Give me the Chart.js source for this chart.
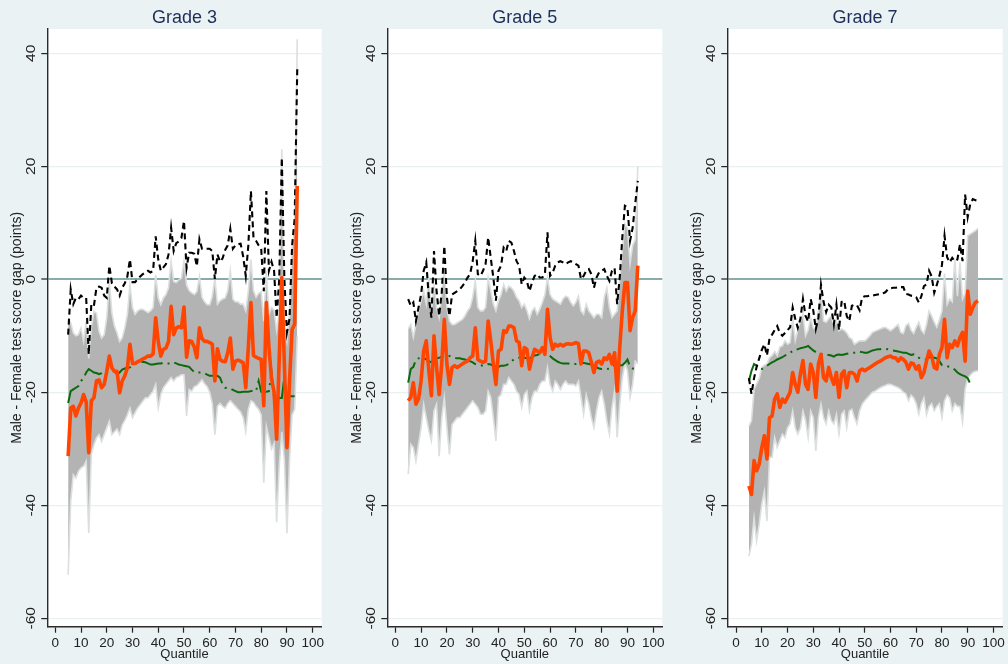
<!DOCTYPE html>
<html>
<head>
<meta charset="utf-8">
<script src="https://cdn.jsdelivr.net/npm/chart.js@4.4.1/dist/chart.umd.min.js"></script>
<style>
html,body{margin:0;padding:0;background:#eaf2f3;}
#wrap{position:relative;width:1008px;height:664px;overflow:hidden;background:#eaf2f3;}
.pan{position:absolute;top:0;height:664px;}
canvas{display:block;}
</style>
</head>
<body>
<div id="wrap">
  <div class="pan" style="left:0px;width:330px"><canvas id="c1" width="330" height="664"></canvas></div>
  <div class="pan" style="left:340px;width:330px"><canvas id="c2" width="330" height="664"></canvas></div>
  <div class="pan" style="left:680px;width:328px"><canvas id="c3" width="328" height="664"></canvas></div>
</div>
<script>
// ---------------- DATA ----------------
const QUANTILES = [5,6,7,8,9,10,11,12,13,14,15,16,17,18,19,20,21,22,23,24,25,26,27,28,29,30,31,32,33,34,
35,36,37,38,39,40,41,42,43,44,45,46,47,48,49,50,51,52,53,54,55,56,57,58,59,60,61,62,63,64,
65,66,67,68,69,70,71,72,73,74,75,76,77,78,79,80,81,82,83,84,85,86,87,88,89,90,91,92,93,94];
const X_TICKS = [0,10,20,30,40,50,60,70,80,90,100];
const Y_TICKS = [-60,-40,-20,0,20,40];
const PANEL_TITLES = ['Grade 3','Grade 5','Grade 7'];
const X_TITLE = 'Quantile';
const Y_TITLE = 'Male - Female test score gap (points)';

// Grade 3
const G3_EST = [-31.3,-22.8,-22.5,-24.2,-22.8,-21.9,-20.4,-21.7,-30.7,-21.5,
-21.0,-18.0,-17.8,-19.2,-18.6,-16.3,-13.6,-15.7,-16.3,-16.3,
-20.1,-18.0,-17.1,-15.7,-11.5,-14.9,-14.9,-14.6,-14.4,-14.1,
-13.9,-13.6,-13.6,-13.2,-6.8,-11.0,-13.6,-12.4,-12.2,-11.0,
-4.8,-9.8,-8.6,-8.4,-8.6,-4.9,-13.8,-10.9,-11.0,-12.0,
-13.9,-8.6,-10.5,-11.0,-11.0,-11.2,-11.5,-18.0,-12.3,-14.2,
-14.5,-14.6,-13.0,-10.4,-15.9,-14.5,-14.3,-14.5,-14.8,-19.2,
-12.0,-4.1,-13.5,-13.8,-14.0,-14.2,-22.4,-4.1,-12.0,-17.6,
-20.0,-28.3,-14.0,0.3,-15.0,-29.8,-18.0,-8.9,-7.9,16.5];
const G3_LO = [-52.3,-39.3,-34.6,-35.2,-34.0,-33.4,-33.1,-32.2,-44.9,-31.0,
-29.3,-28.1,-27.5,-28.7,-27.5,-26.3,-25.1,-27.5,-27.0,-26.5,
-27.5,-25.8,-25.0,-24.0,-22.8,-24.5,-23.6,-22.8,-22.2,-21.6,
-21.0,-21.0,-20.4,-19.8,-18.6,-22.8,-20.4,-19.2,-18.6,-18.0,
-17.4,-18.0,-17.4,-17.2,-16.9,-16.9,-24.2,-19.5,-19.8,-19.0,
-18.8,-18.3,-17.8,-18.5,-19.0,-20.0,-22.0,-27.5,-22.5,-22.0,
-22.5,-22.8,-22.0,-21.5,-22.0,-22.5,-23.0,-23.5,-24.5,-27.0,
-23.0,-21.5,-21.8,-22.5,-23.0,-24.0,-36.0,-26.0,-28.0,-30.0,
-29.0,-43.0,-33.0,-27.0,-32.0,-45.0,-32.0,-24.0,-23.0,-10.0];
const G3_HI = [-7.0,-7.7,-9.5,-10.0,-9.8,-8.6,-11.0,-7.4,-14.0,-8.6,
-5.7,-6.0,-9.2,-10.4,-9.8,-6.8,-0.4,-6.0,-8.3,-9.5,
-11.0,-10.4,-8.6,-6.2,-1.0,-5.0,-6.2,-5.6,-5.3,-5.3,
-5.6,-5.9,-5.6,-5.0,0.8,-3.3,-4.5,-3.3,-2.7,-1.5,
3.2,-0.4,-0.6,-0.1,0.2,3.2,-1.0,-2.0,-2.4,-2.7,
-2.2,0.5,-3.2,-4.0,-4.5,-4.5,-3.0,0.2,-4.4,-3.8,
-3.5,-3.3,-2.0,1.5,-3.5,-4.0,-4.0,-4.4,-4.4,-5.6,
-2.0,3.5,-2.0,-3.2,-2.5,-2.2,-7.4,1.5,-6.2,-5.0,
-5.5,-9.1,-6.0,23.0,-8.0,-10.9,-6.2,5.6,8.6,42.5];
const G3_BLACK = [-9.8,-1.8,-4.4,-3.3,-3.5,-2.9,-3.3,-3.3,-13.3,-4.4,
-4.7,-1.5,-1.3,-1.5,-2.9,-3.3,2.4,-0.7,-1.3,-1.8,
-2.9,-1.5,-0.7,0.5,3.5,-0.5,-0.5,0.0,0.5,0.9,
1.2,1.5,1.2,1.5,7.6,3.5,1.5,2.1,2.7,4.4,
9.1,5.0,6.4,6.7,7.3,10.3,2.0,4.7,4.7,4.5,
2.3,7.1,5.4,5.4,5.4,5.4,5.0,0.0,4.4,3.1,
3.7,5.2,6.0,8.9,5.4,6.0,6.2,6.3,4.0,0.6,
6.0,15.6,7.4,6.8,6.0,5.4,-2.1,15.6,1.5,3.1,
1.5,-6.8,0.0,21.5,0.0,-9.4,-7.0,6.0,10.7,37.2];
const G3_GREEN = [-21.9,-19.8,-19.5,-19.2,-18.9,-18.0,-17.5,-16.5,-15.9,-16.2,
-16.5,-16.6,-16.8,-16.6,-16.2,-16.1,-16.0,-16.0,-16.3,-16.8,
-16.5,-16.0,-15.8,-15.7,-15.6,-15.3,-14.9,-14.9,-14.7,-14.6,
-14.7,-14.9,-15.1,-15.1,-15.0,-14.9,-14.9,-14.8,-14.9,-14.9,
-14.9,-14.7,-14.9,-15.1,-15.2,-15.3,-15.4,-15.5,-16.0,-16.4,
-16.5,-16.5,-16.5,-16.6,-16.9,-17.1,-17.1,-17.1,-17.1,-17.4,
-18.6,-19.2,-19.3,-19.3,-19.6,-19.8,-20.0,-20.0,-19.9,-19.9,
-19.9,-19.8,-19.7,-19.8,-18.0,-19.9,-19.9,-19.9,-19.8,-16.5,
-21.0,-21.0,-21.0,-21.0,-17.3,-20.6,-20.7,-20.7,-20.7,null];

// Grade 5
const G5_EST = [-21.5,-20.9,-18.3,-22.1,-21.2,-18.0,-12.7,-10.9,-16.2,-20.6,
-10.0,-15.6,-20.4,-15.0,-7.1,-15.0,-18.6,-15.6,-15.3,-15.6,
-15.3,-15.0,-14.7,-14.5,-13.9,-13.6,-8.6,-14.2,-14.5,-14.7,
-14.5,-7.4,-10.9,-15.0,-18.6,-12.7,-12.4,-9.1,-9.4,-8.3,
-8.3,-8.6,-10.9,-11.2,-15.3,-12.1,-12.4,-15.9,-13.9,-12.4,
-12.7,-13.0,-12.1,-13.3,-5.3,-10.3,-12.4,-11.5,-11.8,-11.5,
-11.8,-11.5,-11.4,-11.5,-11.4,-11.2,-11.4,-15.0,-12.7,-12.7,
-13.0,-14.7,-16.5,-14.7,-14.5,-15.0,-13.9,-14.2,-13.3,-15.0,
-13.0,-19.8,-12.1,-5.6,-0.6,-0.6,-9.1,-6.8,-5.6,2.4];
const G5_LO = [-34.5,-29.2,-29.8,-32.2,-29.2,-26.3,-22.1,-24.5,-26.8,-28.6,
-23.3,-22.1,-31.3,-24.5,-20.9,-26.3,-31.0,-25.7,-25.1,-24.5,
-24.5,-23.9,-23.3,-22.7,-22.1,-21.5,-22.1,-22.7,-23.9,-23.9,
-23.3,-19.8,-20.9,-24.5,-28.6,-20.9,-20.4,-18.6,-18.6,-17.4,
-18.0,-18.6,-19.8,-20.4,-22.7,-20.4,-19.8,-23.3,-20.9,-19.8,
-19.8,-18.6,-18.0,-18.0,-15.6,-18.6,-19.8,-18.0,-18.6,-19.5,
-18.6,-18.0,-18.6,-18.6,-18.6,-18.9,-18.0,-20.9,-23.9,-20.4,
-22.1,-24.5,-26.3,-23.3,-20.9,-19.8,-22.1,-25.1,-27.4,-22.7,
-19.8,-28.0,-22.1,-17.4,-15.0,-16.2,-20.9,-18.6,-14.5,-15.0];
const G5_HI = [-8.8,-8.0,-10.3,-8.0,-5.6,-3.8,-2.1,-4.4,0.3,-6.2,
-0.9,-5.0,-6.8,-2.7,1.5,-5.0,-7.4,-8.0,-8.0,-7.7,
-7.4,-7.1,-6.5,-5.6,-5.0,-3.2,-0.3,-5.0,-5.6,-5.6,
-5.0,0.3,-2.1,-4.4,-5.6,-3.8,-2.7,-0.9,-2.1,-1.2,
-1.5,-2.1,-3.2,-3.8,-5.0,-4.4,-5.5,-7.0,-5.6,-5.0,
-6.2,-5.3,-4.1,-2.7,0.3,-2.7,-3.5,-3.8,-4.1,-4.4,
-3.5,-3.0,-3.2,-4.1,-4.7,-4.1,-3.0,-5.6,-6.2,-4.4,
-5.6,-6.2,-6.8,-6.2,-6.2,-6.8,-3.2,-1.5,-5.0,-6.8,
-6.2,-5.6,0.0,5.0,9.8,9.0,2.7,6.0,7.0,20.0];
const G5_BLACK = [-3.5,-4.7,-4.1,-7.4,-5.0,-2.7,1.5,3.0,-3.2,-6.8,
5.0,-2.1,-6.5,-2.4,5.9,-3.2,-6.5,-2.7,-2.4,-2.1,
-1.8,-1.2,-0.6,0.3,0.9,3.2,6.8,0.9,0.6,1.5,
2.7,7.4,3.8,0.3,-3.8,1.5,2.4,5.6,5.0,6.8,
6.5,5.0,3.2,2.4,-0.9,0.3,-0.3,-2.1,-0.6,0.6,
0.9,0.3,0.3,0.9,8.3,0.6,1.2,2.4,3.0,3.2,
3.0,2.7,3.0,3.2,3.0,2.7,2.4,0.0,0.6,1.5,
1.8,0.9,-1.5,0.3,1.2,1.5,1.8,0.6,-0.3,1.5,
2.0,-4.4,0.3,7.4,13.0,12.7,6.8,9.1,13.3,17.4];
const G5_GREEN = [-18.3,-15.9,-15.5,-14.2,-14.0,-13.9,-13.9,-14.2,-14.5,-14.7,
-14.2,-14.0,-13.9,-13.7,-13.6,-13.6,-13.6,-13.7,-13.9,-14.0,
-14.0,-14.1,-14.2,-14.4,-14.5,-14.7,-15.0,-15.1,-15.2,-15.3,
-15.3,-15.0,-15.1,-15.3,-15.4,-15.5,-15.3,-15.3,-15.2,-15.0,
-14.5,-14.2,-14.1,-13.9,-13.9,-13.9,-14.0,-14.0,-13.8,-13.5,
-13.4,-13.2,-12.9,-13.0,-13.3,-13.6,-14.0,-14.3,-14.6,-14.8,
-14.9,-14.9,-14.9,-15.0,-15.0,-15.0,-14.9,-14.8,-14.8,-14.9,
-15.0,-15.1,-15.3,-15.6,-15.8,-15.9,-15.9,-15.9,-15.8,-15.6,
-15.3,-15.2,-15.2,-15.2,-14.8,-14.2,-15.5,-15.8,-15.8,-15.8];

// Grade 7
const G7_EST = [-36.6,-38.1,-32.1,-33.9,-32.7,-29.8,-27.7,-31.8,-24.5,-24.2,
-21.2,-20.3,-22.7,-21.2,-21.8,-20.9,-20.0,-16.5,-18.6,-20.0,
-16.8,-14.4,-18.6,-19.5,-15.0,-16.5,-20.9,-15.0,-13.3,-17.4,
-18.0,-15.6,-17.4,-18.6,-16.5,-20.9,-16.8,-16.2,-19.2,-16.5,
-16.5,-16.8,-18.0,-16.2,-15.9,-16.2,-15.9,-15.6,-15.3,-15.0,
-14.7,-14.5,-14.2,-13.9,-13.7,-13.6,-13.9,-13.9,-14.5,-13.9,
-14.2,-14.7,-15.9,-14.8,-15.0,-15.9,-15.3,-17.4,-16.5,-14.5,
-12.7,-13.6,-15.6,-15.9,-13.3,-12.1,-7.1,-13.9,-11.5,-12.1,
-10.9,-11.8,-10.3,-9.4,-14.5,-2.1,-6.2,-5.0,-4.1,-3.8];
const G7_LO = [-49.0,-46.9,-42.2,-46.3,-43.3,-39.8,-37.5,-42.8,-31.5,-31.5,
-28.0,-29.8,-28.6,-27.4,-28.0,-26.3,-25.6,-23.3,-26.3,-27.4,
-26.3,-23.3,-25.0,-28.0,-23.3,-24.5,-30.4,-24.5,-22.1,-24.5,
-25.6,-23.3,-25.0,-25.6,-23.9,-27.4,-23.9,-23.3,-26.3,-23.3,
-23.0,-24.5,-25.6,-23.3,-22.1,-21.5,-21.0,-20.5,-20.0,-19.8,
-19.5,-19.2,-19.0,-18.8,-18.6,-18.6,-18.8,-19.0,-19.2,-19.5,
-20.0,-20.3,-21.5,-20.5,-21.0,-22.0,-23.9,-22.0,-21.0,-24.0,
-22.5,-22.0,-23.3,-22.5,-22.0,-24.5,-21.5,-20.5,-21.0,-23.3,
-22.0,-22.5,-22.5,-25.3,-19.5,-17.5,-17.0,-16.5,-16.3,-16.2];
const G7_HI = [-26.0,-25.0,-19.5,-18.5,-17.5,-15.6,-15.2,-15.0,-13.9,-13.5,
-12.8,-13.5,-12.0,-11.8,-10.9,-11.5,-11.2,-6.8,-10.9,-9.0,
-7.4,-6.2,-10.0,-9.0,-6.8,-8.6,-9.0,-5.6,-2.0,-7.4,
-7.6,-7.0,-6.5,-8.3,-7.5,-9.1,-8.8,-9.0,-9.5,-10.3,
-10.6,-11.5,-11.2,-10.9,-10.9,-10.9,-10.5,-10.0,-9.4,-9.2,
-9.0,-8.8,-8.6,-8.5,-8.8,-9.1,-8.8,-8.4,-8.0,-9.4,
-9.6,-8.2,-7.8,-9.0,-9.6,-8.5,-7.6,-9.0,-9.6,-8.0,
-5.6,-6.5,-7.6,-8.5,-7.2,-5.6,1.0,-4.5,-3.5,-4.0,
3.5,-3.0,3.0,-3.5,-2.5,7.7,8.0,8.3,8.6,9.0];
const G7_BLACK = [-17.5,-20.3,-17.5,-15.5,-14.0,-12.5,-11.5,-13.5,-10.5,-9.8,
-9.0,-8.3,-9.5,-10.0,-9.5,-9.0,-8.5,-5.0,-7.0,-8.6,
-7.0,-3.5,-6.5,-7.5,-3.5,-5.5,-8.8,-6.8,-1.0,-4.0,
-5.8,-4.5,-5.0,-8.0,-4.5,-9.0,-4.0,-3.8,-6.5,-7.4,
-4.7,-4.5,-4.6,-5.5,-3.2,-3.0,-3.0,-2.9,-2.9,-2.8,
-2.7,-2.6,-2.5,-2.3,-1.8,-1.6,-1.5,-1.5,-1.4,-1.4,
-1.4,-2.6,-2.7,-2.9,-3.0,-3.2,-4.1,-3.0,-1.2,-0.9,
1.5,0.5,-2.4,-1.0,0.6,2.5,7.7,3.9,3.0,3.8,
3.2,3.5,6.2,3.2,15.0,11.0,13.3,14.2,14.0,13.9];
const G7_GREEN = [-18.0,-16.2,-15.0,-15.3,-15.9,-15.9,-15.6,-15.3,-15.0,-14.7,
-14.5,-14.2,-14.0,-13.8,-13.5,-13.3,-13.0,-12.7,-12.4,-12.4,
-12.2,-12.1,-12.0,-11.8,-12.2,-12.6,-12.9,-13.0,-13.2,-13.3,
-13.4,-13.4,-13.5,-13.7,-13.4,-13.3,-13.4,-13.3,-13.2,-13.1,
-13.0,-13.0,-13.0,-12.8,-12.9,-13.0,-13.0,-12.8,-12.6,-12.5,
-12.4,-12.4,-12.3,-12.3,-12.4,-12.5,-12.6,-12.7,-12.8,-12.9,
-13.0,-13.0,-13.2,-13.4,-13.3,-13.5,-13.9,-14.0,-14.2,-14.2,
-13.8,-13.8,-13.9,-14.0,-14.5,-15.2,-15.4,-15.4,-15.5,-15.6,
-16.0,-16.5,-16.8,-17.0,-17.2,-17.5,-18.5,-18.8,null,null];

// ---------------- STYLE / LAYOUT ----------------
const FONT = '"Liberation Sans", Arial, Helvetica, sans-serif';
Chart.defaults.font.family = FONT;
Chart.defaults.color = '#222';

const PANELS = [
  {canvas:'c1', title:PANEL_TITLES[0], est:G3_EST, lo:G3_LO, hi:G3_HI, blk:G3_BLACK, grn:G3_GREEN, xmin:-3.1, xmax:103.5, padRight:8.3},
  {canvas:'c2', title:PANEL_TITLES[1], est:G5_EST, lo:G5_LO, hi:G5_HI, blk:G5_BLACK, grn:G5_GREEN, xmin:-3.1, xmax:103.5, padRight:7.7},
  {canvas:'c3', title:PANEL_TITLES[2], est:G7_EST, lo:G7_LO, hi:G7_HI, blk:G7_BLACK, grn:G7_GREEN, xmin:-3.4, xmax:103.6, padRight:5.3}
];

function pts(vals){ return QUANTILES.map((q,i)=>({x:q, y:vals[i]})); }

const whiteBg = {
  id:'whiteBg',
  beforeDraw(chart){
    const {ctx, chartArea:a} = chart;
    ctx.save(); ctx.fillStyle = '#ffffff';
    ctx.fillRect(a.left, a.top, a.right-a.left, a.bottom-a.top);
    ctx.restore();
  }
};
const yTickLabels = {
  id:'yTickLabels',
  afterDraw(chart){
    const {ctx, chartArea:a} = chart; const ys = chart.scales.y;
    ctx.save();
    ctx.fillStyle = '#222'; ctx.font = '12px ' + FONT;
    ctx.textAlign = 'center'; ctx.textBaseline = 'middle';
    ys.ticks.forEach(t => {
      const y = ys.getPixelForValue(t.value);
      ctx.save(); ctx.translate(a.left - 15.6, y); ctx.rotate(-Math.PI/2); ctx.scale(1.3, 1);
      ctx.fillText(String(t.value), 0, 0); ctx.restore();
    });
    ctx.restore();
  }
};
function titlePlugin(text){
  return {
    id:'panelTitle',
    afterDraw(chart){
      const {ctx, chartArea:a} = chart;
      ctx.save(); ctx.fillStyle = '#1e2e5a'; ctx.font = '18px ' + FONT;
      ctx.textAlign = 'center'; ctx.textBaseline = 'middle';
      ctx.fillText(text, (a.left + a.right)/2, 18);
      ctx.restore();
    }
  };
}

PANELS.forEach(p => {
  const el = document.getElementById(p.canvas);
  new Chart(el, {
    type:'line',
    data:{ datasets:[
      {data:pts(p.lo), borderColor:'#dcdfdf', borderWidth:1.6, pointRadius:0, fill:false, tension:0, order:5},
      {data:pts(p.hi), borderColor:'#dcdfdf', borderWidth:1.6, pointRadius:0, fill:'-1', backgroundColor:'#b3b3b3', tension:0, order:4},
      {data:pts(p.grn), borderColor:'#0b6a0b', borderWidth:2, borderDash:[22,5,2,5], pointRadius:0, fill:false, tension:0, order:3},
      {data:pts(p.blk), borderColor:'#000000', borderWidth:2.1, borderDash:[6,4], pointRadius:0, fill:false, tension:0, order:2},
      {data:pts(p.est), borderColor:'#ff4500', borderWidth:3.6, borderJoinStyle:'round', pointRadius:0, fill:false, tension:0, order:1}
    ]},
    options:{
      responsive:false, animation:false, devicePixelRatio:1,
      layout:{padding:{left:0, right:p.padRight, top:29, bottom:0}},
      plugins:{ legend:{display:false}, tooltip:{enabled:false}, filler:{drawTime:'beforeDatasetsDraw'} },
      scales:{
        x:{
          type:'linear', min:p.xmin, max:p.xmax,
          afterBuildTicks:s => { s.ticks = X_TICKS.map(v => ({value:v})); },
          afterFit:s => { s.height = 37.3; },
          ticks:{font:{size:13.5}, color:'#222', padding:2.5, maxRotation:0, autoSkip:false, callback:v => String(v)},
          grid:{drawOnChartArea:false, color:'#222', tickColor:'#222', tickLength:6, tickWidth:1.2},
          border:{color:'#2b2b2b', width:1.4},
          title:{display:true, text:X_TITLE, font:{size:13}, color:'#222', padding:{top:0, bottom:2.2}}
        },
        y:{
          type:'linear', min:-61.5, max:44.3,
          afterBuildTicks:s => { s.ticks = Y_TICKS.map(v => ({value:v})); },
          afterFit:s => { s.width = 47.3; },
          ticks:{display:false},
          grid:{
            color:c => (c.tick && c.tick.value === 0) ? '#8aaca8' : '#e8f0f1',
            lineWidth:c => (c.tick && c.tick.value === 0) ? 2 : 1.2,
            tickColor:'#222', tickLength:6, tickWidth:1.2
          },
          border:{color:'#2b2b2b', width:1.4},
          title:{display:true, text:Y_TITLE, font:{size:14}, color:'#222', padding:{top:8.3, bottom:0}}
        }
      }
    },
    plugins:[whiteBg, yTickLabels, titlePlugin(p.title)]
  });
});
</script>
</body>
</html>
